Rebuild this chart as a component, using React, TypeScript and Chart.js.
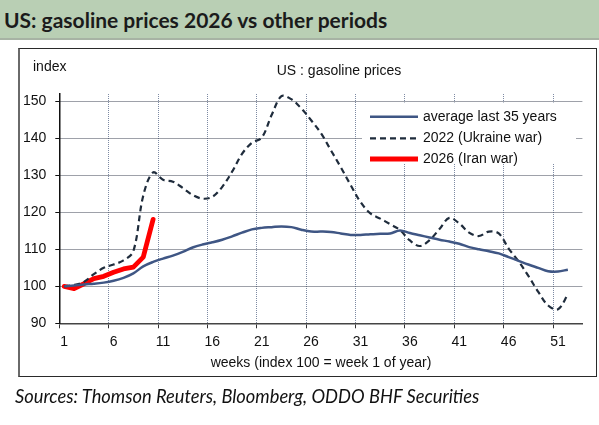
import React, { useEffect, useRef } from "react";
import { Chart, registerables } from "chart.js";

Chart.register(...registerables);

const weeks = [
  "1", "2", "3", "4", "5", "6", "7", "8", "9", "10",
  "11", "12", "13", "14", "15", "16", "17", "18", "19", "20",
  "21", "22", "23", "24", "25", "26", "27", "28", "29", "30",
  "31", "32", "33", "34", "35", "36", "37", "38", "39", "40",
  "41", "42", "43", "44", "45", "46", "47", "48", "49", "50",
  "51", "52", "53",
];

const avg35 = [
  100, 100.2, 100.5, 100.7, 101.0, 101.5, 102.3, 103.5, 105.4, 106.6,
  107.5, 108.3, 109.3, 110.5, 111.3, 111.9, 112.6, 113.5, 114.5, 115.4,
  115.8, 116.0, 116.2, 116.0, 115.3, 114.8, 114.8, 114.7, 114.3, 113.9,
  113.9, 114.1, 114.2, 114.3, 115.1, 114.4, 113.8, 113.2, 112.6, 112.1,
  111.5, 110.6, 110.0, 109.5, 108.9, 107.9, 106.9, 105.9, 105.0, 104.1,
  104.0, 104.5,
];

const ukraine2022 = [
  100, 100.4, 101.2, 103.3, 105.0, 105.9, 107.0, 109.5, 124.5, 130.8,
  128.8, 128.3, 126.6, 124.7, 123.7, 124.2, 126.9, 131.0, 135.8, 138.8,
  140.2, 146.3, 151.4, 150.6, 148.1, 144.9, 141.4, 136.8, 132.2, 127.4,
  122.8, 119.7, 118.3, 116.8, 115.2, 112.4, 110.9, 112.5, 115.5, 118.5,
  117.0, 114.5, 113.6, 114.8, 114.3, 110.2, 106.8, 102.8, 98.5, 94.8,
  93.8, 97.8,
];

const iran2026 = [100, 99.4, 100.7, 102.1, 102.7, 103.8, 104.7, 105.2, 107.9, 118.1];

const seriesLabels = ["average last 35 years", "2022 (Ukraine war)", "2026 (Iran war)"];
const yTickValues = [90, 100, 110, 120, 130, 140, 150];

const chartTitle = "US : gasoline prices";
const yUnit = "index";
const xTitle = "weeks (index 100 = week 1 of year)";

const FONT = '"Liberation Sans", Arial, sans-serif';

const overlay = {
  id: "overlay",
  afterDraw(chart: any) {
    const ctx = chart.ctx;
    const ca = chart.chartArea;
    ctx.save();
    ctx.fillStyle = "#111";
    ctx.font = `14px ${FONT}`;
    ctx.textBaseline = "middle";
    ctx.textAlign = "left";
    ctx.fillText(yUnit, 33, 67);
    ctx.textAlign = "center";
    ctx.fillText(chartTitle, 339, 71);
    ctx.fillText(xTitle, (ca.left + ca.right) / 2, 363);

    // legend
    ctx.fillStyle = "#fff";
    ctx.fillRect(362, 102.5, 214, 61.5);
    const rows = [116.7, 138.3, 159];
    chart.data.datasets.forEach((ds: any, i: number) => {
      ctx.beginPath();
      ctx.strokeStyle = ds.borderColor;
      ctx.lineWidth = ds.borderWidth;
      ctx.setLineDash(ds.borderDash || []);
      ctx.moveTo(370, rows[i]);
      ctx.lineTo(418, rows[i]);
      ctx.stroke();
      ctx.setLineDash([]);
      ctx.fillStyle = "#111";
      ctx.textAlign = "left";
      ctx.fillText(ds.label, 423, rows[i]);
    });
    ctx.restore();
  },
};

function GasChart() {
  const ref = useRef<HTMLCanvasElement | null>(null);
  useEffect(() => {
    if (!ref.current) return;
    const chart = new Chart(ref.current, {
      type: "line",
      data: {
        labels: weeks,
        datasets: [
          {
            label: seriesLabels[0],
            data: avg35,
            borderColor: "#3f5684",
            borderWidth: 2.5,
            pointRadius: 0,
            tension: 0.35,
            fill: false,
          },
          {
            label: seriesLabels[1],
            data: ukraine2022,
            borderColor: "#1f2c3c",
            borderWidth: 2.2,
            borderDash: [6, 4],
            pointRadius: 0,
            tension: 0.35,
            fill: false,
          },
          {
            label: seriesLabels[2],
            data: iran2026,
            borderColor: "#ff0000",
            borderWidth: 4.8,
            pointRadius: 0,
            tension: 0,
            fill: false,
            borderJoinStyle: "round",
            borderCapStyle: "round",
          },
        ],
      },
      options: {
        animation: false,
        responsive: false,
        devicePixelRatio: 1,
        layout: { padding: { left: 19, top: 94, right: 16.3, bottom: 61.7 } },
        plugins: {
          legend: { display: false },
          title: { display: false },
          tooltip: { enabled: false },
        },
        scales: {
          x: {
            type: "category",
            offset: true,
            afterFit: (s: any) => {
              s.height = 40;
            },
            grid: {
              offset: true,
              color: (c: any) => (c.index % 5 === 0 && c.index < weeks.length ? "#7d8aa3" : "rgba(0,0,0,0)"),
              tickColor: (c: any) => (c.index % 5 === 0 && c.index < weeks.length ? "#333" : "rgba(0,0,0,0)"),
              lineWidth: 1,
              tickLength: 5,
              drawTicks: true,
            },
            border: { display: true, color: "#444", width: 1.5, dash: [1, 1] },
            ticks: {
              autoSkip: false,
              maxRotation: 0,
              minRotation: 0,
              padding: 5,
              color: "#111",
              font: { family: FONT, size: 14 },
              callback: (_v: any, i: number) => (i % 5 === 0 ? weeks[i] : ""),
            },
          },
          y: {
            min: 90,
            max: 152,
            afterFit: (s: any) => {
              s.width = 40.3;
            },
            afterBuildTicks: (s: any) => {
              s.ticks = yTickValues.map((v) => ({ value: v }));
            },
            grid: {
              color: "#3c4252",
              lineWidth: 1,
              tickLength: 4,
              tickColor: "#111",
            },
            border: { display: true, color: "#111", width: 1.5, dash: [1, 1] },
            ticks: {
              padding: 9,
              color: "#111",
              font: { family: FONT, size: 14 },
            },
          },
        },
      },
      plugins: [overlay],
    } as any);
    return () => chart.destroy();
  }, []);
  return (
    <canvas
      ref={ref}
      width={599}
      height={425}
      style={{ position: "absolute", left: 0, top: 0, width: 599, height: 425 }}
    />
  );
}

export default function App() {
  return (
    <div
      style={{
        position: "absolute",
        left: 0,
        top: 0,
        width: 599,
        height: 425,
        background: "#fff",
        overflow: "hidden",
      }}
    >
      <div
        style={{
          position: "absolute",
          left: 0,
          top: 0,
          width: 599,
          height: 40,
          background: "#b9cfb4",
          borderBottom: "2px solid #a7b3a4",
          boxSizing: "border-box",
        }}
      />
      <div
        style={{
          position: "absolute",
          left: 4,
          top: 7,
          lineHeight: "26px",
          fontFamily: "Lato, sans-serif",
          fontWeight: 700,
          fontSize: 21,
          color: "#1b1b1b",
          whiteSpace: "nowrap",
        }}
      >
        US: gasoline prices 2026 vs other periods
      </div>
      <div
        style={{
          position: "absolute",
          left: 18,
          top: 48,
          width: 579,
          height: 329,
          border: "1px solid #2a2a2a",
          borderLeft: "2px solid #6a6a6a",
          boxSizing: "border-box",
        }}
      />
      <GasChart />
      <div
        style={{
          position: "absolute",
          left: 15,
          top: 384,
          lineHeight: "25px",
          fontFamily: "Lato, sans-serif",
          fontStyle: "italic",
          fontSize: 18.3,
          color: "#111",
          whiteSpace: "nowrap",
        }}
      >
        Sources: Thomson Reuters, Bloomberg, ODDO BHF Securities
      </div>
    </div>
  );
}
